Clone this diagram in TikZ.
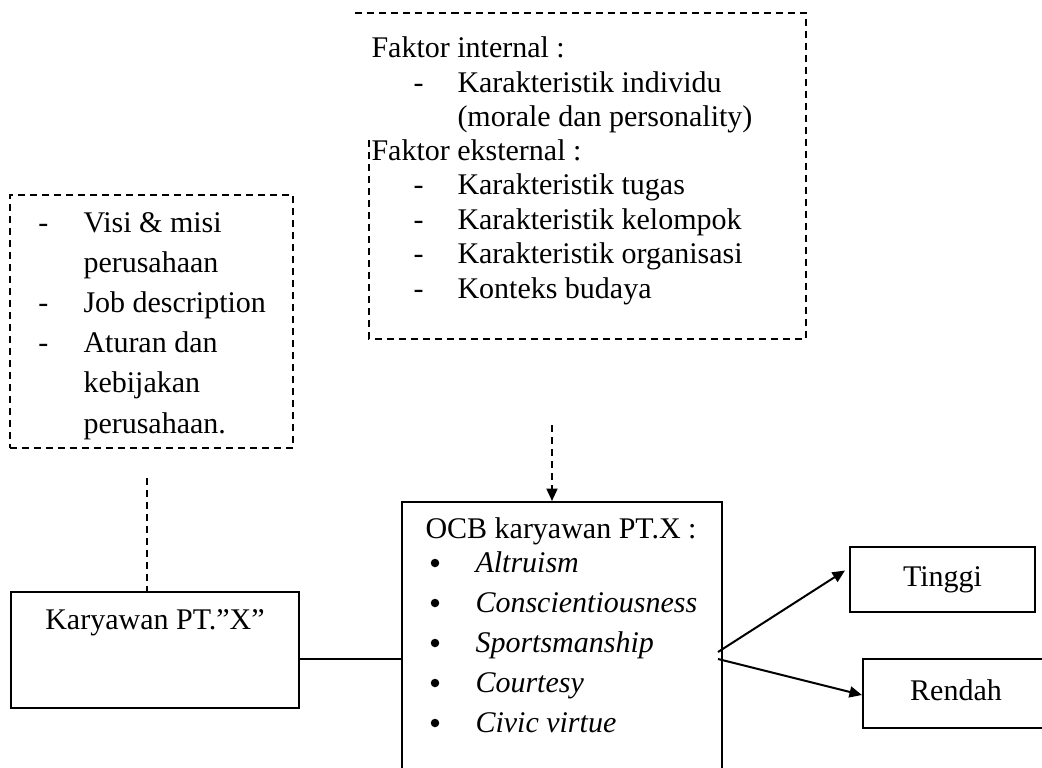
\documentclass[tikz,border=0pt]{standalone}
\usepackage{fontspec}
\setmainfont{Liberation Serif}
\usetikzlibrary{arrows.meta,calc}
\tikzset{
  txt/.style={anchor=base west,inner sep=0pt,font=\fontsize{12pt}{13.8pt}\selectfont},
  txti/.style={txt,font=\fontsize{12pt}{13.8pt}\selectfont\itshape},
  solidbox/.style={draw,line width=0.8pt,inner sep=0pt,font=\fontsize{12pt}{13.8pt}\selectfont,
    text height=8pt,text depth=2.6pt},
  dashbox/.style={solidbox,dash pattern=on 2.8pt off 2pt},
  dot/.style={circle,fill,inner sep=0pt,minimum size=3.4pt},
  link/.style={line width=0.8pt},
  dlink/.style={link,dash pattern=on 2.8pt off 2pt},
  tip/.style={-{Triangle[length=5pt,width=4.4pt]}}
}
\begin{document}
\begin{tikzpicture}[x=0.4pt,y=-0.4pt]
  \useasboundingbox (0,0) rectangle (1042,768);
  \clip (0,0) rectangle (1042,768);
  % boxes
  \node[dashbox,minimum width=113.2pt,minimum height=101.2pt] (misi) at (151.5,321.5) {};
  \node[minimum width=174pt,minimum height=130pt,inner sep=0pt] (faktor) at (587.5,175.5) {};
  \draw[dlink] ($(faktor.north west)+(-14,0)$) -- (faktor.north east) -- (faktor.south east)
    -- (faktor.south west) -- ($(faktor.south west)+(0,-200)$);
  \node[solidbox,minimum width=115.2pt,minimum height=46.4pt] (karyawan) at (155,650) {};
  \node[solidbox,minimum width=128pt,minimum height=120pt] (ocb) at (562,652) {};
  \node[solidbox,minimum width=74pt,minimum height=26pt] (tinggi) at (942.5,579.5) {Tinggi};
  \node[solidbox,minimum width=74.4pt,minimum height=27.6pt] (rendah) at (956,693.5) {Rendah};
  % top box text
  \node[txt] (fint) at (371,57) {Faktor internal :};
  \node[txt] (dint) at (413,92) {-};
  \node[txt] (kind) at (457,92) {Karakteristik individu};
  \node[txt] (moral) at (457,126) {(morale dan personality)};
  \node[txt] (fext) at (371,160) {Faktor eksternal :};
  \foreach \t [count=\i] in {Karakteristik tugas,Karakteristik kelompok,Karakteristik organisasi,Konteks budaya}{
    \node[txt] (dext\i) at (413,160+34.5*\i) {-};
    \node[txt] (ext\i) at (457,160+34.5*\i) {\t};
  }
  % left box text
  \node[txt] (dm1) at (38,232) {-};
  \node[txt] (m1) at (83,232) {Visi \& misi};
  \node[txt] (m2) at (83,272) {perusahaan};
  \node[txt] (dm3) at (38,312) {-};
  \node[txt] (m3) at (83,312) {Job description};
  \node[txt] (dm4) at (38,352) {-};
  \node[txt] (m4) at (83,352) {Aturan dan};
  \node[txt] (m5) at (83,392) {kebijakan};
  \node[txt] (m6) at (83,433) {perusahaan.};
  % karyawan and OCB text
  \node[txt,anchor=base] (kname) at (155,629) {Karyawan PT.”X”};
  \node[txt] (ocbhead) at (425,538) {OCB karyawan PT.X :};
  \foreach \t [count=\i] in {Altruism,Conscientiousness,Sportsmanship,Courtesy,Civic virtue}{
    \node[dot] (b\i) at (435,523+40*\i) {};
    \node[txti] (ocb\i) at (475,532+40*\i) {\t};
  }
  % connectors
  \coordinate (d1) at (147,478);
  \draw[dlink] (d1) -- (d1 |- karyawan.north);
  \coordinate (d2) at (552,425);
  \draw[dlink,tip] (d2) -- (d2 |- ocb.north);
  \coordinate (j) at (0,659);
  \draw[link] (karyawan.east |- j) -- (ocb.west |- j);
  \coordinate (o1) at (718,652);
  \coordinate (o2) at (718,659);
  \draw[link,tip] (o1) -- ($(tinggi.west)+(-4,-9)$);
  \draw[link,tip] (o2) -- ($(rendah.west)+(0,1.5)$);
\end{tikzpicture}
\end{document}
